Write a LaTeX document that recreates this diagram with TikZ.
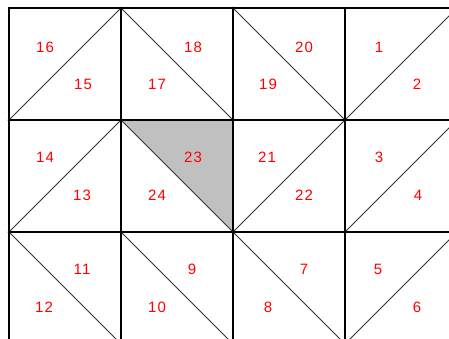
\documentclass[tikz,border=0pt]{standalone}
\usepackage{fontspec}
\setmainfont{Liberation Sans}
\newfontfamily\labfont[LetterSpace=8]{Liberation Sans}
\usetikzlibrary{positioning}
\definecolor{trired}{RGB}{255,0,0}
\definecolor{trigrey}{RGB}{192,192,192}

\begin{document}
\begin{tikzpicture}[x=1pt, y=-1pt,
    gridline/.style={draw=black, line width=1.4pt},
    diag/.style={draw=black!80, line width=1pt},
    lab/.style={text=trired, font=\labfont\fontsize{15}{15}\selectfont, inner sep=0pt},
    vdot/.style={fill=black},
]
    \useasboundingbox (0,0) rectangle (449,338);
    \clip (0,0) rectangle (449,338);
    \fill[white] (0,0) rectangle (449,338);

    % Shaded triangle
    \fill[trigrey] (121,120) -- (233,120) -- (233,232) -- cycle;

    % Grid
    \foreach \gx in {9,121,233,345,457}
        \draw[gridline] (\gx,7.3) -- (\gx,350);
    \foreach \gy in {8,120,232}
        \draw[gridline] (8.3,\gy) -- (460,\gy);

    % Diagonals
    \foreach \ax/\ay/\bx/\by in {9/120/121/8, 121/8/233/120, 233/8/345/120, 345/120/457/8,
                                 9/232/121/120, 121/120/233/232, 233/232/345/120, 345/232/457/120,
                                 9/232/121/344, 121/232/233/344, 233/232/345/344, 345/344/457/232}
        \draw[diag] (\ax,\ay) -- (\bx,\by);

    % Vertex dots
    \foreach \px/\py in {9/120, 121/8, 233/8, 233/120, 345/120, 9/232, 121/120,
                         233/232, 345/232, 121/232}
        \fill[vdot] (\px,\py) circle (1.5);

    % Triangle numbers
    \node[lab] (t1)  at (379,47)  {1};
    \node[lab] (t2)  at (417,84)  {2};
    \node[lab] (t3)  at (379,157) {3};
    \node[lab] (t4)  at (418,195) {4};
    \node[lab] (t5)  at (378,269) {5};
    \node[lab] (t6)  at (417,307) {6};
    \node[lab] (t7)  at (304,269) {7};
    \node[lab] (t8)  at (268,307) {8};
    \node[lab] (t9)  at (192,269) {9};
    \node[lab] (t10) at (157,307) {10};
    \node[lab] (t11) at (82,269)  {11};
    \node[lab] (t12) at (44,307)  {12};
    \node[lab] (t13) at (82,195)  {13};
    \node[lab] (t14) at (45,157)  {14};
    \node[lab] (t15) at (83,84)   {15};
    \node[lab] (t16) at (45,47)   {16};
    \node[lab] (t17) at (157,84)  {17};
    \node[lab] (t18) at (193,47)  {18};
    \node[lab] (t19) at (268,84)  {19};
    \node[lab] (t20) at (304,47)  {20};
    \node[lab] (t21) at (267,157) {21};
    \node[lab] (t22) at (304,195) {22};
    \node[lab] (t23) at (193,157) {23};
    \node[lab] (t24) at (157,195) {24};
\end{tikzpicture}
\end{document}
